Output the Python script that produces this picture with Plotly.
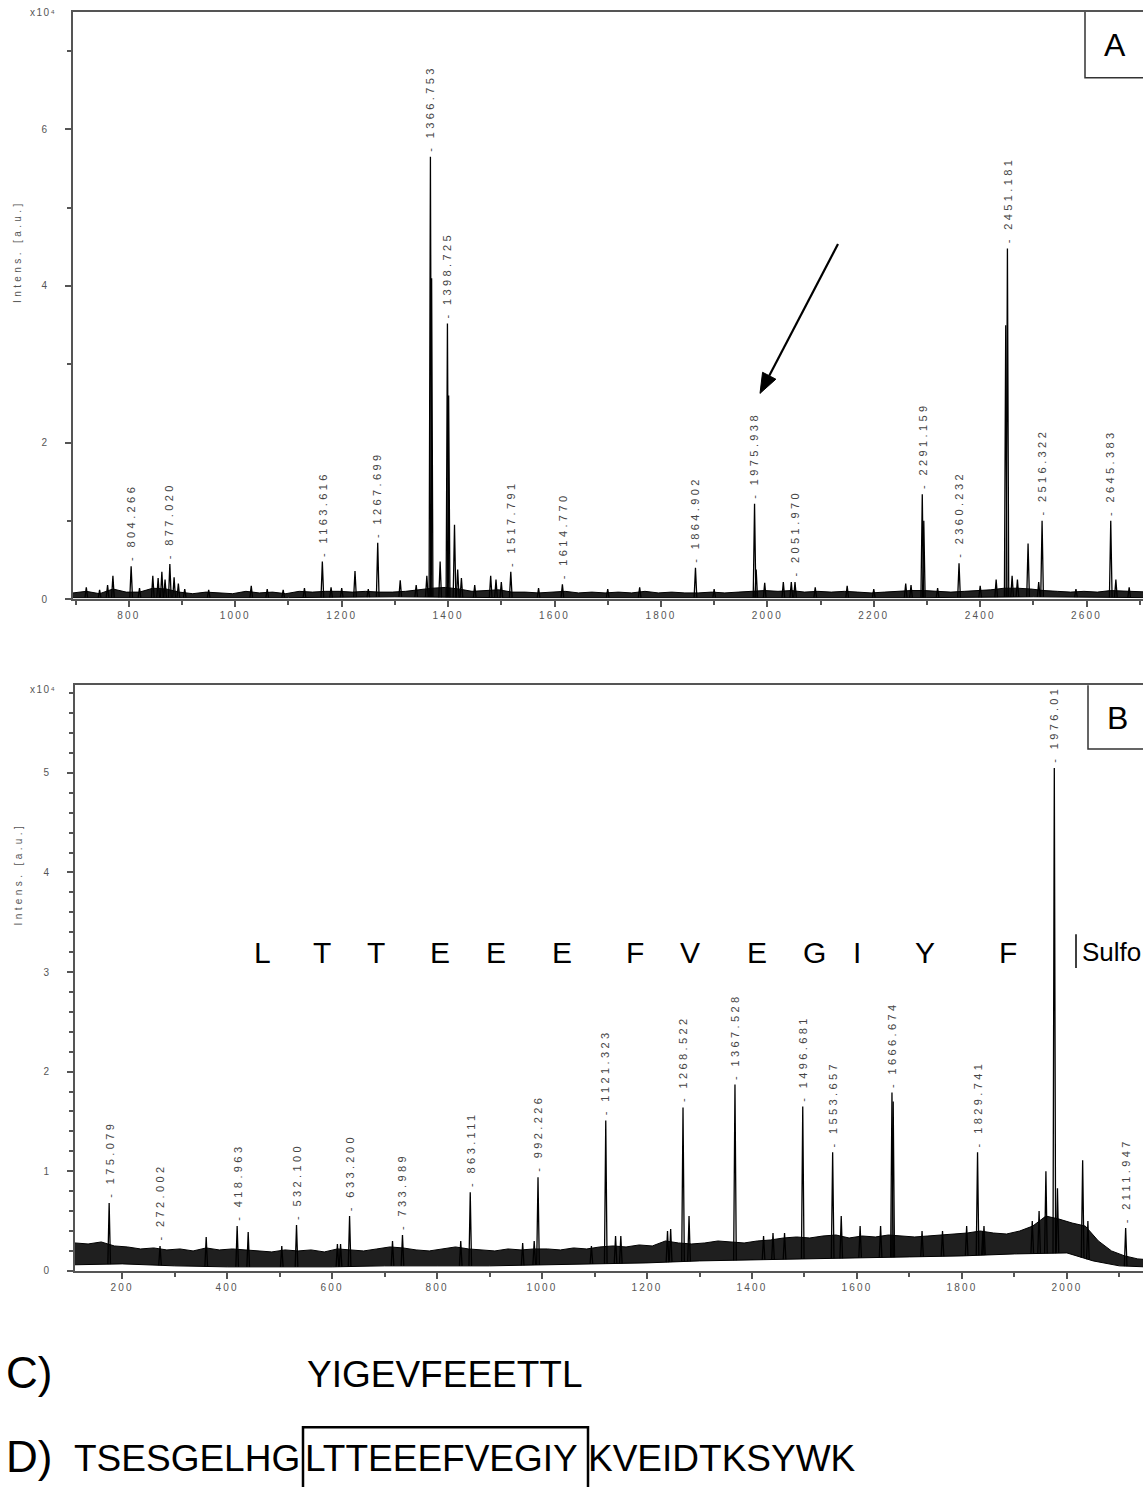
import numpy as np
import plotly.graph_objects as go

W, H = 1143, 1487
FONT = "Liberation Sans, Arial, sans-serif"
GREY = "#555555"

# ---------------- Panel A data (intensity in units of 1e4) ----------------
a_lab_mz = [804.266, 877.020, 1163.616, 1267.699, 1366.753, 1398.725, 1517.791, 1614.770,
            1864.902, 1975.938, 2051.970, 2291.159, 2360.232, 2451.181, 2516.322, 2645.383]
a_lab_int = [0.42, 0.45, 0.48, 0.72, 5.65, 3.52, 0.35, 0.19,
             0.40, 1.22, 0.22, 1.34, 0.46, 4.48, 1.00, 1.00]
a_lab_text = ["804.266", "877.020", "1163.616", "1267.699", "1366.753", "1398.725", "1517.791", "1614.770",
              "1864.902", "1975.938", "2051.970", "2291.159", "2360.232", "2451.181", "2516.322", "2645.383"]
a_minor_mz = [720, 745, 760, 770, 820, 845, 855, 862, 868, 885, 893, 905, 950, 1030, 1060, 1090, 1130,
              1180, 1200, 1225, 1250, 1310, 1340, 1360, 1369, 1385, 1401, 1412, 1418, 1425, 1450, 1480,
              1490, 1500, 1570, 1700, 1760, 1900, 1979, 1995, 2030, 2045, 2090, 2150, 2200, 2260, 2270,
              2294, 2320, 2400, 2430, 2448, 2460, 2470, 2490, 2510, 2580, 2655, 2680]
a_minor_int = [0.15, 0.12, 0.18, 0.30, 0.14, 0.30, 0.27, 0.35, 0.25, 0.28, 0.20, 0.13, 0.12, 0.17, 0.13,
               0.12, 0.14, 0.15, 0.14, 0.36, 0.13, 0.24, 0.18, 0.30, 4.10, 0.48, 2.60, 0.95, 0.38, 0.27,
               0.18, 0.30, 0.25, 0.22, 0.14, 0.13, 0.15, 0.13, 0.38, 0.21, 0.22, 0.22, 0.15, 0.17, 0.13,
               0.20, 0.18, 1.00, 0.14, 0.17, 0.25, 3.50, 0.30, 0.25, 0.71, 0.22, 0.13, 0.25, 0.15]
a_noise_start, a_noise_step = 695, 25
a_noise_hi = [0.08, 0.10, 0.07, 0.13, 0.09, 0.09, 0.14, 0.13, 0.09, 0.07, 0.09, 0.08, 0.07, 0.10, 0.08,
              0.09, 0.07, 0.10, 0.09, 0.10, 0.10, 0.09, 0.10, 0.09, 0.09, 0.10, 0.12, 0.14, 0.15, 0.13,
              0.10, 0.11, 0.12, 0.09, 0.09, 0.08, 0.09, 0.10, 0.08, 0.09, 0.08, 0.09, 0.08, 0.10, 0.08,
              0.09, 0.08, 0.08, 0.09, 0.08, 0.09, 0.10, 0.11, 0.10, 0.11, 0.09, 0.10, 0.09, 0.10, 0.09,
              0.08, 0.09, 0.10, 0.11, 0.11, 0.10, 0.09, 0.10, 0.11, 0.12, 0.14, 0.14, 0.13, 0.11, 0.10,
              0.09, 0.10, 0.09, 0.11, 0.10, 0.09, 0.09]
a_noise_lo_mz = [690, 900, 1100, 1300, 1500, 1700, 1900, 2100, 2300, 2500, 2710]
a_noise_lo = [0.02, 0.02, 0.02, 0.03, 0.02, 0.02, 0.02, 0.02, 0.02, 0.03, 0.02]
a_xticks = [800, 1000, 1200, 1400, 1600, 1800, 2000, 2200, 2400, 2600]
a_yticks = [0, 2, 4, 6]

# ---------------- Panel B data ----------------
b_lab_mz = [175.079, 272.002, 418.963, 532.100, 633.200, 733.989, 863.111, 992.226, 1121.323,
            1268.522, 1367.528, 1496.681, 1553.657, 1666.674, 1829.741, 1976.01, 2111.947]
b_lab_int = [0.68, 0.25, 0.45, 0.46, 0.55, 0.36, 0.79, 0.94, 1.51,
             1.64, 1.87, 1.65, 1.19, 1.79, 1.19, 5.05, 0.43]
b_lab_text = ["175.079", "272.002", "418.963", "532.100", "633.200", "733.989", "863.111", "992.226", "1121.323",
              "1268.522", "1367.528", "1496.681", "1553.657", "1666.674", "1829.741", "1976.01", "2111.947"]
b_minor_mz = [360, 440, 504, 610, 616, 715, 845, 963, 985, 1094, 1140, 1150, 1239, 1245, 1280, 1422,
              1440, 1462, 1570, 1606, 1645, 1669, 1724, 1763, 1809, 1840, 1842, 1934, 1947, 1960, 1982,
              2030, 2040]
b_minor_int = [0.34, 0.39, 0.25, 0.27, 0.27, 0.30, 0.30, 0.28, 0.30, 0.25, 0.35, 0.35, 0.40, 0.42, 0.55, 0.35,
               0.38, 0.38, 0.55, 0.45, 0.45, 1.70, 0.40, 0.40, 0.45, 0.40, 0.45, 0.50, 0.60, 1.00, 0.83,
               1.11, 0.50]
b_noise_start, b_noise_step = 110, 25
b_noise_hi = [0.28, 0.27, 0.29, 0.25, 0.24, 0.22, 0.23, 0.21, 0.22, 0.20, 0.23, 0.21, 0.22, 0.21, 0.20,
              0.19, 0.21, 0.20, 0.21, 0.19, 0.22, 0.21, 0.20, 0.22, 0.24, 0.23, 0.21, 0.20, 0.22, 0.24,
              0.22, 0.21, 0.20, 0.22, 0.21, 0.22, 0.22, 0.21, 0.23, 0.22, 0.24, 0.25, 0.24, 0.26, 0.25,
              0.30, 0.28, 0.27, 0.28, 0.30, 0.29, 0.28, 0.30, 0.31, 0.33, 0.34, 0.33, 0.35, 0.36, 0.33,
              0.35, 0.34, 0.36, 0.35, 0.34, 0.35, 0.36, 0.37, 0.38, 0.40, 0.38, 0.37, 0.40, 0.45, 0.55,
              0.52, 0.48, 0.45, 0.30, 0.20, 0.15, 0.12, 0.11]
b_noise_lo_mz = [100, 200, 300, 400, 500, 600, 700, 800, 900, 1000, 1100, 1200, 1300, 1400, 1500,
                 1600, 1700, 1800, 1900, 2000, 2050, 2100, 2200]
b_noise_lo = [0.06, 0.07, 0.05, 0.04, 0.04, 0.04, 0.05, 0.05, 0.05, 0.06, 0.07, 0.08, 0.10, 0.11, 0.12,
              0.13, 0.14, 0.15, 0.17, 0.18, 0.10, 0.05, 0.03]
b_xticks = [200, 400, 600, 800, 1000, 1200, 1400, 1600, 1800, 2000]
b_yticks = [0, 1, 2, 3, 4, 5]
b_seq_letters = ["L", "T", "T", "E", "E", "E", "F", "V", "E", "G", "I", "Y", "F"]
b_seq_mz = [467, 581, 684, 806, 912, 1038, 1177, 1282, 1410, 1520, 1600, 1730, 1888]

# ---------------- Sequences ----------------
seq_c = "YIGEVFEEETTL"
seq_d_pre, seq_d_box, seq_d_post = "TSESGELHG", "LTTEEEFVEGIY", "KVEIDTKSYWK"


def spaced(t, sp=2.0):
    return f'<span style="letter-spacing:{sp}px">{t}</span>'


def px(x):
    return x / W


def py(y):
    return 1 - y / H


fig = go.Figure()


def add_panel(xa, ya, lab_mz, lab_int, minor_mz, minor_int, n_start, n_step, n_hi, lo_mz, lo):
    grid = [n_start + i * n_step for i in range(len(n_hi))]
    bx = grid + lo_mz[::-1]
    by = n_hi + lo[::-1]
    fig.add_trace(go.Scatter(x=bx, y=by, fill="toself", fillcolor="rgba(0,0,0,0.88)",
                             line=dict(color="black", width=1), mode="lines",
                             xaxis=xa, yaxis=ya, hoverinfo="skip", showlegend=False))
    xs, ys = [], []
    w = 2.5
    for m, h in zip(list(lab_mz) + list(minor_mz), list(lab_int) + list(minor_int)):
        foot = float(np.interp(m, lo_mz, lo))
        xs += [m - w, m, m + w, None]
        ys += [foot, h, foot, None]
    fig.add_trace(go.Scatter(x=xs, y=ys, mode="lines", line=dict(color="black", width=1.3),
                             xaxis=xa, yaxis=ya, hoverinfo="skip", showlegend=False))


add_panel("x", "y", a_lab_mz, a_lab_int, a_minor_mz, a_minor_int,
          a_noise_start, a_noise_step, a_noise_hi, a_noise_lo_mz, a_noise_lo)
add_panel("x2", "y2", b_lab_mz, b_lab_int, b_minor_mz, b_minor_int,
          b_noise_start, b_noise_step, b_noise_hi, b_noise_lo_mz, b_noise_lo)

ann = []
lab_font = dict(size=11, color="#444", family=FONT)
for m, h, t in zip(a_lab_mz, a_lab_int, a_lab_text):
    ann.append(dict(x=m, y=h, xref="x", yref="y", text=spaced("- " + t, 3.4), textangle=-90,
                    xanchor="center", yanchor="bottom", yshift=3, showarrow=False, font=lab_font))
for m, h, t in zip(b_lab_mz, b_lab_int, b_lab_text):
    ann.append(dict(x=m, y=h, xref="x2", yref="y2", text=spaced("- " + t, 3.4), textangle=-90,
                    xanchor="center", yanchor="bottom", yshift=3, showarrow=False, font=lab_font))
for L, m in zip(b_seq_letters, b_seq_mz):
    ann.append(dict(x=m, y=3.2, xref="x2", yref="y2", text=L, showarrow=False,
                    xanchor="center", yanchor="middle", font=dict(size=30, color="black", family=FONT)))
ann.append(dict(x=2025, y=3.2, xref="x2", yref="y2", text="Sulfo", showarrow=False,
                xanchor="left", yanchor="middle", font=dict(size=26, color="black", family=FONT)))

# axis titles and exponents
for yc, ytop in [(253, 13), (878, 692)]:
    ann.append(dict(x=px(18), y=py(yc), xref="paper", yref="paper", text=spaced("Intens. [a.u.]", 3.4),
                    textangle=-90, showarrow=False, xanchor="center", yanchor="middle",
                    font=dict(size=10, color=GREY, family=FONT)))
    ann.append(dict(x=px(43), y=py(ytop), xref="paper", yref="paper", text=spaced("x10\u2074", 1.5),
                    showarrow=False, xanchor="center", yanchor="middle",
                    font=dict(size=10, color=GREY, family=FONT)))

# panel letters
ann.append(dict(x=px(1115), y=py(45), xref="paper", yref="paper", text="A", showarrow=False,
                xanchor="center", yanchor="middle", font=dict(size=32, color="black", family=FONT)))
ann.append(dict(x=px(1117), y=py(721), xref="paper", yref="paper", text="B", showarrow=False,
                xanchor="center", yanchor="middle", font=dict(size=32, color="black", family=FONT)))

# sequences C and D
ann.append(dict(x=px(4), y=py(1378), xref="paper", yref="paper", text="C)", showarrow=False,
                xanchor="left", yanchor="middle", font=dict(size=44, color="black", family=FONT)))
ann.append(dict(x=px(305), y=py(1380), xref="paper", yref="paper", text=seq_c, showarrow=False,
                xanchor="left", yanchor="middle", font=dict(size=37, color="black", family=FONT)))
ann.append(dict(x=px(4), y=py(1462), xref="paper", yref="paper", text="D)", showarrow=False,
                xanchor="left", yanchor="middle", font=dict(size=44, color="black", family=FONT)))
ann.append(dict(x=px(302), y=py(1464), xref="paper", yref="paper", text=seq_d_pre, showarrow=False,
                xanchor="right", yanchor="middle", font=dict(size=37, color="black", family=FONT)))
ann.append(dict(x=px(303), y=py(1464), xref="paper", yref="paper", text=seq_d_box, showarrow=False,
                xanchor="left", yanchor="middle", font=dict(size=37, color="black", family=FONT)))
ann.append(dict(x=px(586), y=py(1464), xref="paper", yref="paper", text=seq_d_post, showarrow=False,
                xanchor="left", yanchor="middle", font=dict(size=37, color="black", family=FONT)))

# arrow in panel A (pixel geometry)
tip = np.array([760.0, 395.0])
tail = np.array([838.0, 245.0])
u = (tip - tail) / np.linalg.norm(tip - tail)
perp = np.array([-u[1], u[0]])
head_len, head_half = 20.0, 7.5
base = tip - head_len * u
p1 = base + head_half * perp
p2 = base - head_half * perp

shapes = [
    dict(type="line", xref="paper", yref="paper", x0=px(tail[0]), y0=py(tail[1]),
         x1=px(base[0]), y1=py(base[1]), line=dict(color="black", width=2.2)),
    dict(type="path", xref="paper", yref="paper",
         path=f"M {px(tip[0])} {py(tip[1])} L {px(p1[0])} {py(p1[1])} L {px(p2[0])} {py(p2[1])} Z",
         fillcolor="black", line=dict(color="black", width=1)),
    dict(type="path", xref="paper", yref="paper",
         path=f"M {px(1085)} {py(12)} L {px(1085)} {py(78)} L {px(1160)} {py(78)}",
         line=dict(color="#333", width=1.5)),
    dict(type="path", xref="paper", yref="paper",
         path=f"M {px(1088)} {py(688)} L {px(1088)} {py(752)} L {px(1160)} {py(752)}",
         line=dict(color="#333", width=1.5)),
    dict(type="line", xref="paper", yref="paper", x0=px(1076), x1=px(1076), y0=py(972), y1=py(938),
         line=dict(color="black", width=1.5)),
    dict(type="rect", xref="paper", yref="paper", x0=px(303), x1=px(588), y0=py(1500), y1=py(1433),
         line=dict(color="black", width=2.5)),
]

tickfont = dict(size=10, color=GREY, family=FONT)
common_x = dict(showline=True, linecolor=GREY, linewidth=2, mirror=True, ticks="outside", ticklen=6,
                tickcolor=GREY, tickwidth=1.5, showgrid=False, zeroline=False, tickfont=tickfont,
                minor=dict(dtick=100, ticks="outside", ticklen=4, tickcolor=GREY, tickwidth=1.5))
common_y = dict(showline=True, linecolor=GREY, linewidth=2, mirror=False, ticks="outside", ticklen=6,
                tickcolor=GREY, tickwidth=1.5, showgrid=False, zeroline=False, tickfont=tickfont,
                ticklabelstandoff=16)

fig.update_layout(
    width=W, height=H, autosize=False, margin=dict(l=0, r=0, t=0, b=0),
    paper_bgcolor="white", plot_bgcolor="white", showlegend=False,
    xaxis=dict(domain=[px(73), 1], range=[695, 2706], anchor="y",
               tickvals=a_xticks, ticktext=[spaced(v, 2.2) for v in a_xticks], **common_x),
    yaxis=dict(domain=[py(601.6), py(12)], range=[0, 7.5], anchor="x",
               tickvals=a_yticks, ticktext=[str(v) for v in a_yticks],
               minor=dict(dtick=1, ticks="outside", ticklen=4, tickcolor=GREY, tickwidth=1.5), **common_y),
    xaxis2=dict(domain=[px(75), 1], range=[110, 2145], anchor="y2",
                tickvals=b_xticks, ticktext=[spaced(v, 2.2) for v in b_xticks], **common_x),
    yaxis2=dict(domain=[py(1276), py(688)], range=[0, 5.88], anchor="x2",
                tickvals=b_yticks, ticktext=[str(v) for v in b_yticks],
                minor=dict(dtick=0.2, ticks="outside", ticklen=4, tickcolor=GREY, tickwidth=1.5), **common_y),
    annotations=ann, shapes=shapes,
)

fig.write_html("out.html")
